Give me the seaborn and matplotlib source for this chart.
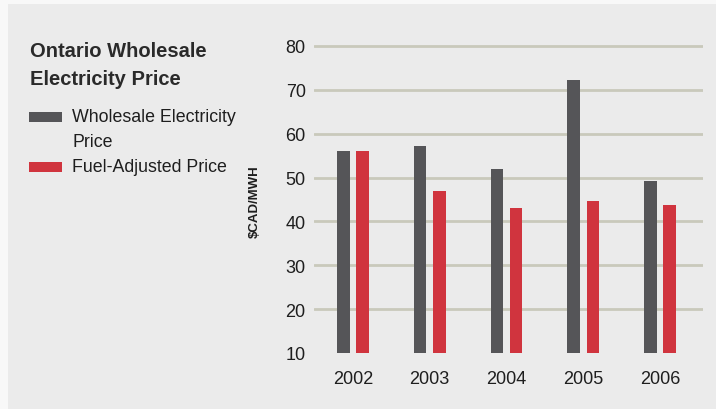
import matplotlib
matplotlib.use("Agg")
import matplotlib.pyplot as plt
import seaborn as sns
import pandas as pd
from matplotlib.patches import Rectangle

years = ["2002", "2003", "2004", "2005", "2006"]
wholesale = [56.1, 57.2, 52.0, 72.2, 49.3]
fuel_adjusted = [56.1, 46.9, 43.1, 44.7, 43.8]
series_names = ["Wholesale Electricity\nPrice", "Fuel-Adjusted Price"]
y_ticks = [10, 20, 30, 40, 50, 60, 70, 80]

df = pd.DataFrame({
    "year": years * 2,
    "value": wholesale + fuel_adjusted,
    "series": [series_names[0]] * len(years) + [series_names[1]] * len(years),
})

sns.set_theme(style="white")
plt.rcParams["font.family"] = ["Liberation Sans", "DejaVu Sans"]

BG = "#ebebeb"
GREY = "#555558"
RED = "#d0343e"
TXT = "#1e1e1e"

fig = plt.figure(figsize=(7.16, 4.10), dpi=100)
fig.patch.set_facecolor("#f8f8f8")
fig.patches.append(Rectangle((8 / 716, 0), 1, 1 - 5 / 410, transform=fig.transFigure,
                             facecolor=BG, edgecolor="none", zorder=-10))

ax = fig.add_axes([314 / 716, 1 - 354 / 410, (703 - 314) / 716, (354 - 42.6) / 410])
ax.set_facecolor("none")

sns.barplot(data=df, x="year", y="value", hue="series", palette=[GREY, RED],
            width=0.5, ax=ax, legend=False, saturation=1)

bw = 0.165
for p in ax.patches:
    c = p.get_x() + p.get_width() / 2
    p.set_x(c - bw / 2)
    p.set_width(bw)
    p.set_edgecolor("none")
    p.set_zorder(3)

ax.set_ylim(10, 81)
ax.set_xlim(-0.508, 4.56)
for v in y_ticks[1:]:
    ax.axhline(v, color="#c9c9bb", lw=2, zorder=1)
ax.set_yticks(y_ticks)
ax.tick_params(axis="both", length=0, labelsize=13, labelcolor=TXT)
ax.tick_params(axis="y", pad=6)
ax.tick_params(axis="x", pad=12)
for s in ax.spines.values():
    s.set_visible(False)
ax.set_xlabel("")
ax.set_ylabel("$CAD/MWH", fontsize=9.5, fontweight="bold", color=TXT)
ax.yaxis.set_label_coords((261 - 314) / 389, 0.49)

fig.text(30 / 716, 1 - 42 / 410, "Ontario Wholesale\nElectricity Price", fontsize=14.5,
         fontweight="bold", color="#2a2a2a", va="top", ha="left", linespacing=1.6)

# legend
sw_w, sw_h = 33 / 716, 10 / 410
fig.patches.append(Rectangle((29 / 716, 1 - 123 / 410), sw_w, sw_h, transform=fig.transFigure,
                             facecolor=GREY, edgecolor="none"))
fig.patches.append(Rectangle((29 / 716, 1 - 173 / 410), sw_w, sw_h, transform=fig.transFigure,
                             facecolor=RED, edgecolor="none"))
fig.text(72 / 716, 1 - 117 / 410, "Wholesale Electricity", fontsize=12.8, color=TXT, va="center")
fig.text(72 / 716, 1 - 143 / 410, "Price", fontsize=12.8, color=TXT, va="center")
fig.text(72 / 716, 1 - 168 / 410, "Fuel-Adjusted Price", fontsize=12.8, color=TXT, va="center")

fig.savefig("out.png", dpi=100, facecolor=fig.get_facecolor())
